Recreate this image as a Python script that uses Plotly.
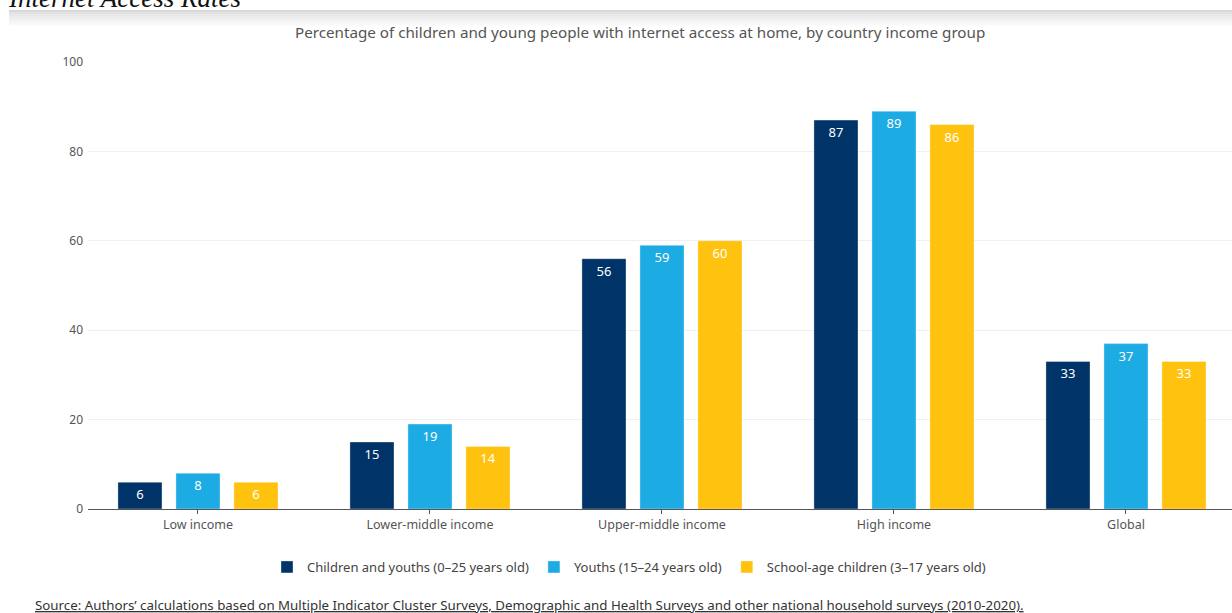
import plotly.graph_objects as go

categories = ["Low income", "Lower-middle income", "Upper-middle income", "High income", "Global"]
series_names = ["Children and youths (0\u201325 years old)", "Youths (15\u201324 years old)", "School-age children (3\u201317 years old)"]
children_youths = [6, 15, 56, 87, 33]
youths = [8, 19, 59, 89, 37]
school_age = [6, 14, 60, 86, 33]
colors = ["#003468", "#1CABE2", "#FFC20E"]
y_ticks = [0, 20, 40, 60, 80, 100]

W, H = 1232, 613
L, R, T, B = 88, 0, 62, 104
ph = H - T - B
pw = W - L - R

def py(p):
    return (H - B - p) / ph

def px(p):
    return (p - L) / pw

fig = go.Figure()
for name, vals, c in zip(series_names, [children_youths, youths, school_age], colors):
    fig.add_trace(go.Bar(
        x=categories, y=vals, name=name,
        marker=dict(color=c, line=dict(color="rgba(255,255,255,0.35)", width=1)),
        text=[str(v) for v in vals], textposition="inside", insidetextanchor="end",
        textfont=dict(color="white", size=13, family="Noto Sans"),
        textangle=0, cliponaxis=False,
    ))

shapes = []
# gradient band at top
grays = ["#d9d9d9", "#e0e0e0", "#e6e6e6", "#ececec", "#f1f1f1", "#f5f5f5", "#f9f9f9"]
top = 10
for i, g in enumerate(grays):
    y0 = top + i * 2.2
    shapes.append(dict(type="rect", xref="paper", yref="paper",
                       x0=px(9), x1=1.0, y0=py(y0 + 2.4), y1=py(y0),
                       fillcolor=g, line=dict(width=0), layer="below"))

fig.update_layout(
    width=W, height=H,
    margin=dict(l=L, r=R, t=T, b=B),
    paper_bgcolor="white", plot_bgcolor="white",
    barmode="group", bargap=0.25, bargroupgap=0.24,
    font=dict(family="Noto Sans", color="#555"),
    showlegend=True,
    legend=dict(orientation="h", x=px(629), xanchor="center", y=py(567), yanchor="middle",
                font=dict(size=13, color="#444"), itemwidth=30, traceorder="normal"),
    xaxis=dict(range=[-0.474, 4.457], showline=True, linecolor="#555", linewidth=1,
               ticks="outside", ticklen=4, tickcolor="#555", tickfont=dict(size=12.5, color="#555"),
               showgrid=False, fixedrange=True),
    yaxis=dict(range=[0, 100], tickvals=y_ticks, showgrid=True, gridcolor="#f0f0f0",
               gridwidth=1, zeroline=False, tickfont=dict(size=12, color="#555"),
               ticks="", ticklabelstandoff=4),
    shapes=shapes,
    annotations=[
        dict(text="<i>Internet Access Rates</i>", xref="paper", yref="paper", x=px(6), y=py(-2),
             xanchor="left", yanchor="middle", showarrow=False,
             font=dict(family="Liberation Serif", size=27, color="#111")),
        dict(text="Percentage of children and young people with internet access at home, by country income group",
             xref="paper", yref="paper", x=px(640), y=py(32), xanchor="center", yanchor="middle",
             showarrow=False, font=dict(size=15.2, color="#555")),
        dict(text="<u>Source: Authors\u2019 calculations based on Multiple Indicator Cluster Surveys, Demographic and Health Surveys and other national household surveys (2010-2020).</u>",
             xref="paper", yref="paper", x=px(33), y=py(605), xanchor="left", yanchor="middle",
             showarrow=False, font=dict(size=13.3, color="#333")),
    ],
)

fig.write_html("out.html")
